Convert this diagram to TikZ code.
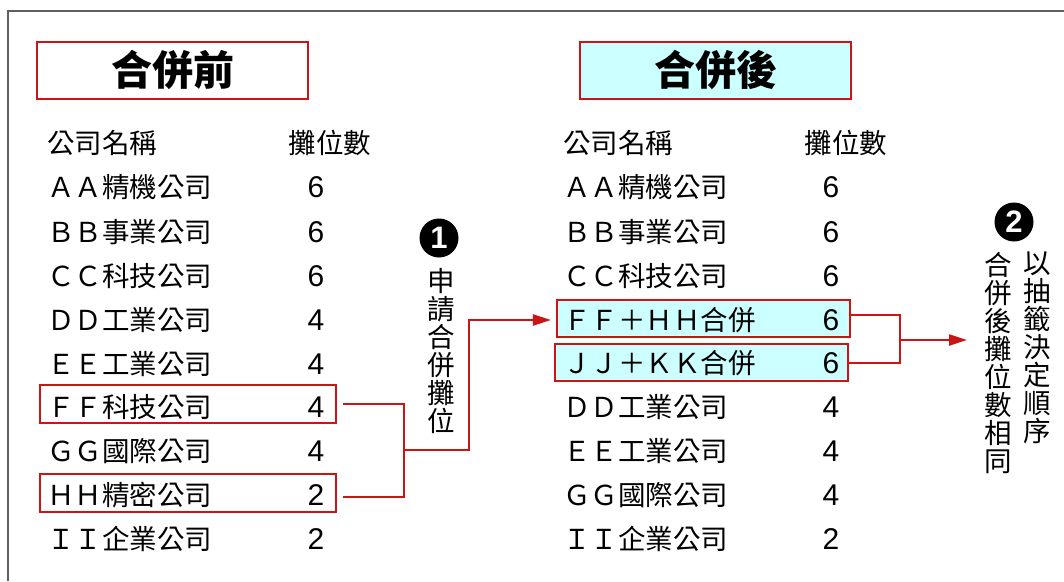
\documentclass[tikz,border=0pt]{standalone}
\usepackage{fontspec}
\usetikzlibrary{arrows.meta}
\newfontfamily\cjk{Noto Sans CJK TC}
\newfontfamily\lib{Liberation Sans}
\definecolor{boxred}{RGB}{204,20,20}
\definecolor{cyanfill}{RGB}{204,255,255}
\definecolor{framegray}{RGB}{95,95,95}
\tikzset{
  redbox/.style={draw=boxred, line width=2.2pt, inner sep=0pt},
  titletext/.style={font=\cjk\bfseries\fontsize{41}{41}\selectfont, inner sep=0pt},
  namet/.style={font=\cjk\fontsize{27.5}{28}\selectfont, anchor=west, inner sep=0pt},
  headt/.style={font=\cjk\fontsize{27.5}{28}\selectfont, inner sep=0pt},
  numt/.style={font=\lib\fontsize{30}{30}\selectfont, inner sep=0pt},
  vtext/.style={font=\cjk\fontsize{27.5}{28}\selectfont, align=center, inner sep=0pt, anchor=north},
  badge/.style={circle, fill=black, minimum size=39pt, inner sep=0pt, text=white, font=\lib\bfseries\fontsize{31}{31}\selectfont},
  conn/.style={draw=boxred, line width=2.2pt},
  arr/.style={conn, -{Triangle[length=18pt,width=11pt]}}
}
\begin{document}
\begin{tikzpicture}[x=1pt,y=-1pt]
\useasboundingbox (0,0) rectangle (1064,581);
\fill[white] (0,0) rectangle (1064,581);
% outer frame
\draw[framegray, line width=1.8pt] (8,581) -- (8,11) -- (1064,11);
% titles
\node[redbox, minimum width=271pt, minimum height=57pt] (tl) at (172.5,70.5) {};
\node[titletext] (tlt) at (172.5,70) {合併前};
\node[redbox, fill=cyanfill, minimum width=271pt, minimum height=57pt] (tr) at (715.5,70.5) {};
\node[titletext] (trt) at (715.5,70) {合併後};
% highlight boxes
\node[redbox, minimum width=296pt, minimum height=38pt] (lff) at (188,404) {};
\node[redbox, minimum width=296pt, minimum height=38pt] (lhh) at (188,493) {};
\node[redbox, fill=cyanfill, minimum width=293pt, minimum height=37pt] (rff) at (703.5,318.5) {};
\node[redbox, fill=cyanfill, minimum width=293pt, minimum height=37pt] (rjj) at (701.5,362.5) {};
% left table
\node[namet] (lh1) at (47,143) {公司名稱};
\node[headt] (lh2) at (330,143) {攤位數};
\node[namet] (ln1) at (47,187) {ＡＡ精機公司};
\node[namet] (ln2) at (47,232) {ＢＢ事業公司};
\node[namet] (ln3) at (47,276) {ＣＣ科技公司};
\node[namet] (ln4) at (47,320) {ＤＤ工業公司};
\node[namet] (ln5) at (47,364) {ＥＥ工業公司};
\node[namet] (ln6) at (47,407) {ＦＦ科技公司};
\node[namet] (ln7) at (47,451) {ＧＧ國際公司};
\node[namet] (ln8) at (47,495) {ＨＨ精密公司};
\node[namet] (ln9) at (47,539) {ＩＩ企業公司};
\node[numt] (lv1) at (316,187) {6};
\node[numt] (lv2) at (316,232) {6};
\node[numt] (lv3) at (316,276) {6};
\node[numt] (lv4) at (316,320) {4};
\node[numt] (lv5) at (316,364) {4};
\node[numt] (lv6) at (316,407) {4};
\node[numt] (lv7) at (316,451) {4};
\node[numt] (lv8) at (316,495) {2};
\node[numt] (lv9) at (316,539) {2};
% right table
\node[namet] (rh1) at (563,143) {公司名稱};
\node[headt] (rh2) at (846,143) {攤位數};
\node[namet] (rn1) at (563,187) {ＡＡ精機公司};
\node[namet] (rn2) at (563,232) {ＢＢ事業公司};
\node[namet] (rn3) at (563,276) {ＣＣ科技公司};
\node[namet] (rn4) at (563,320) {ＦＦ＋ＨＨ合併};
\node[namet] (rn5) at (563,363) {ＪＪ＋ＫＫ合併};
\node[namet] (rn6) at (563,407) {ＤＤ工業公司};
\node[namet] (rn7) at (563,451) {ＥＥ工業公司};
\node[namet] (rn8) at (563,495) {ＧＧ國際公司};
\node[namet] (rn9) at (563,539) {ＩＩ企業公司};
\node[numt] (rv1) at (831,187) {6};
\node[numt] (rv2) at (831,232) {6};
\node[numt] (rv3) at (831,276) {6};
\node[numt] (rv4) at (831,320) {6};
\node[numt] (rv5) at (831,363) {6};
\node[numt] (rv6) at (831,407) {4};
\node[numt] (rv7) at (831,451) {4};
\node[numt] (rv8) at (831,495) {4};
\node[numt] (rv9) at (831,539) {2};
% step 1
\node[badge] (b1) at (439,238) {1};
\node[vtext] (v1) at (441,268) {申\\請\\合\\併\\攤\\位};
% step 2
\node[badge] (b2) at (1014,222) {2};
\node[vtext] (v2a) at (1037,252) {以\\抽\\籤\\決\\定\\順\\序};
\node[vtext] (v2b) at (998,252) {合\\併\\後\\攤\\位\\數\\相\\同};
% connectors
\coordinate (lj) at (404,450);
\coordinate (lm) at (469,450);
\draw[conn] ([xshift=6pt]lff.east) -| (lj) |- ([xshift=6pt,yshift=-4pt]lhh.east);
\draw[arr] (lj) -- (lm) |- ([xshift=-5pt,yshift=-1.5pt]rff.west);
\coordinate (rj) at (900,340);
\coordinate (rt) at (967,340);
\draw[conn] ([yshift=3.5pt]rff.east) -| (rj) |- ([yshift=-0.5pt]rjj.east);
\draw[arr] (rj) -- (rt);
\end{tikzpicture}
\end{document}
